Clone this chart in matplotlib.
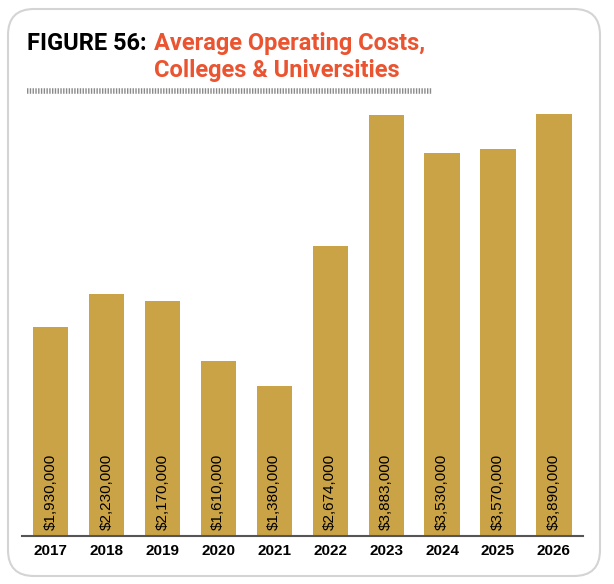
import matplotlib.pyplot as plt
from matplotlib.patches import FancyBboxPatch

# Figure 56: average operating costs, colleges & universities
years = ['2017', '2018', '2019', '2020', '2021', '2022', '2023', '2024', '2025', '2026']
costs = [1930000, 2230000, 2170000, 1610000, 1380000, 2674000, 3883000, 3530000, 3570000, 3890000]

GOLD = '#CAA346'
ORANGE = '#EA5430'

W, H = 614, 584
fig = plt.figure(figsize=(W / 100, H / 100), dpi=100)

# rounded panel border
panel = FancyBboxPatch((0.08, 0.08), (W - 20) / 100 - 0.02, (H - 16) / 100 - 0.01,
                       boxstyle='round,pad=0,rounding_size=0.26',
                       transform=fig.dpi_scale_trans, facecolor='white',
                       edgecolor='#D4D4D4', linewidth=1.5, zorder=-5)
fig.patches.append(panel)

# title
title_font = dict(fontsize=17, fontweight='bold', family='Roboto', va='baseline')
fig.text(27 / W, 1 - 50 / H, 'FIGURE 56:', color='black', **title_font)
fig.text(154 / W, 1 - 50 / H, 'Average Operating Costs,', color=ORANGE, **title_font)
fig.text(154 / W, 1 - 77 / H, 'Colleges & Universities', color=ORANGE, **title_font)

# hatched rule under the title
fig.add_artist(plt.Line2D([27 / W, 432 / W], [1 - 91 / H, 1 - 91 / H],
                          transform=fig.transFigure, color='#8A8A8A',
                          linewidth=4, linestyle=(0, (0.25, 0.25))))

ax = fig.add_axes([22 / W, 1 - 536 / H, (583 - 22) / W, (536 - 100) / H])
ax.set_zorder(2)
x = range(len(years))
ax.bar(x, costs, width=0.63, color=GOLD, zorder=2)

for i, v in enumerate(costs):
    ax.annotate(f'${v:,}', (i, 0), xytext=(0, 4), textcoords='offset points',
                rotation=90, ha='center', va='bottom', fontsize=11,
                family='Liberation Sans', color='black', zorder=3)

ax.set_xlim(-0.51, 9.52)
ax.set_ylim(0, 4020000)
ax.set_xticks(list(x))
ax.set_xticklabels(years, fontsize=11, fontweight='bold', family='Liberation Sans')
ax.tick_params(axis='x', length=0, pad=6)
ax.set_yticks([])
for side in ['top', 'right', 'left']:
    ax.spines[side].set_visible(False)
ax.spines['bottom'].set_color('#555555')
ax.spines['bottom'].set_linewidth(1.5)
ax.patch.set_alpha(0)

fig.savefig('out.png', dpi=100)
